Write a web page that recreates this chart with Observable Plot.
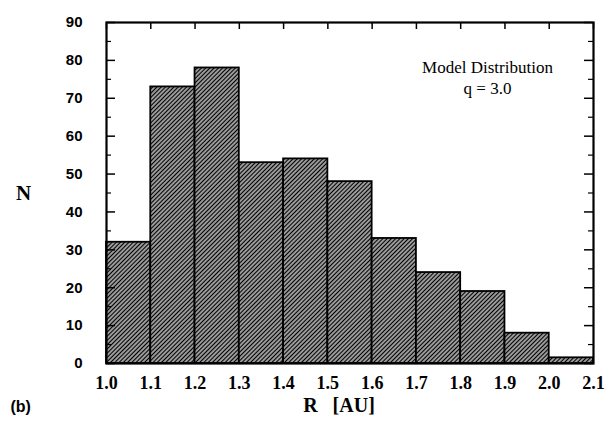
<!DOCTYPE html>
<html>
<head>
<meta charset="utf-8">
<script src="https://cdn.jsdelivr.net/npm/d3@7"></script>
<script src="https://cdn.jsdelivr.net/npm/@observablehq/plot@0.6"></script>
<style>
  html, body { margin: 0; padding: 0; background: #fff; }
</style>
</head>
<body>
<div id="chart"></div>
<script>
// Histogram bin edges (R in AU) and counts N
const binEdges = [1.0, 1.1, 1.2, 1.3, 1.4, 1.5, 1.6, 1.7, 1.8, 1.9, 2.0, 2.1];
const counts   = [32, 73, 78, 53, 54, 48, 33, 24, 19, 8, 1.5];
const xTicks = [1.0, 1.1, 1.2, 1.3, 1.4, 1.5, 1.6, 1.7, 1.8, 1.9, 2.0, 2.1];
const yTicks = [0, 10, 20, 30, 40, 50, 60, 70, 80, 90];
const yMinorTicks = [5, 15, 25, 35, 45, 55, 65, 75, 85];
const legendLines = ["Model Distribution", "q = 3.0"];
const xLabel = "R   [AU]";
const yLabel = "N";
const panelLabel = "(b)";

const bins = counts.map((n, i) => ({x1: binEdges[i], x2: binEdges[i + 1], n}));

const W = 605, H = 426;
const mL = 106, mR = 12, mT = 22, mB = 63;
const pw = W - mL - mR, ph = H - mT - mB;
const serif = "'Liberation Serif', 'Times New Roman', serif";
const sans = "'Liberation Sans', Arial, sans-serif";

const svg = Plot.plot({
  width: W, height: H,
  marginLeft: mL, marginRight: mR, marginTop: mT, marginBottom: mB,
  x: {domain: [1.0, 2.1], axis: null},
  y: {domain: [0, 90], axis: null},
  marks: [
    Plot.rectY(bins, {x1: "x1", x2: "x2", y: "n", fill: "url(#hatch)", stroke: "black", strokeWidth: 1.8}),
    // left major / minor ticks (inward)
    Plot.tickY(yTicks, {y: d => d, insetRight: pw - 9, stroke: "black", strokeWidth: 1.5}),
    Plot.tickY(yMinorTicks, {y: d => d, insetRight: pw - 5, stroke: "black", strokeWidth: 1.2}),
    // right major / minor ticks (inward)
    Plot.tickY(yTicks, {y: d => d, insetLeft: pw - 9, stroke: "black", strokeWidth: 1.5}),
    Plot.tickY(yMinorTicks, {y: d => d, insetLeft: pw - 5, stroke: "black", strokeWidth: 1.2}),
    // top ticks (inward)
    Plot.tickX(xTicks, {x: d => d, insetBottom: ph - 7, stroke: "black", strokeWidth: 1.5}),
    Plot.frame({stroke: "black", strokeWidth: 2.2}),
    // tick labels
    Plot.text(yTicks, {y: d => d, text: d => String(d), frameAnchor: "left", dx: -24, textAnchor: "end", fontSize: 15, fontFamily: sans, fontWeight: "bold", fill: "black"}),
    Plot.text(xTicks, {x: d => d, text: d => d.toFixed(1), frameAnchor: "bottom", dy: 25, textAnchor: "middle", fontSize: 18, fontFamily: serif, fontWeight: "bold", fill: "black"}),
    // axis titles
    Plot.text([yLabel], {frameAnchor: "left", dx: -83, dy: 0, fontSize: 21, fontFamily: serif, fontWeight: "bold", textAnchor: "middle"}),
    Plot.text([xLabel], {frameAnchor: "bottom", dx: -11, dy: 48, fontSize: 20, fontFamily: serif, fontWeight: "bold", textAnchor: "middle"}),
    Plot.text([panelLabel], {frameAnchor: "bottom-left", dx: -96, dy: 48, fontSize: 16, fontFamily: sans, fontWeight: "bold", textAnchor: "start"}),
    // legend text
    Plot.text([legendLines[0]], {frameAnchor: "top-right", dx: -106, dy: 38, fontSize: 17, fontFamily: serif, textAnchor: "middle"}),
    Plot.text([legendLines[1]], {frameAnchor: "top-right", dx: -106, dy: 59, fontSize: 17, fontFamily: serif, textAnchor: "middle"})
  ]
});

// hatch pattern definition
const ns = "http://www.w3.org/2000/svg";
const defs = document.createElementNS(ns, "defs");
defs.innerHTML = `<pattern id="hatch" width="3" height="3" patternUnits="userSpaceOnUse" patternTransform="rotate(45)">
  <rect width="3" height="3" fill="white"/>
  <line x1="1.5" y1="-1" x2="1.5" y2="4" stroke="black" stroke-width="1.8"/>
</pattern>`;
svg.insertBefore(defs, svg.firstChild);
document.getElementById("chart").appendChild(svg);
</script>
</body>
</html>
